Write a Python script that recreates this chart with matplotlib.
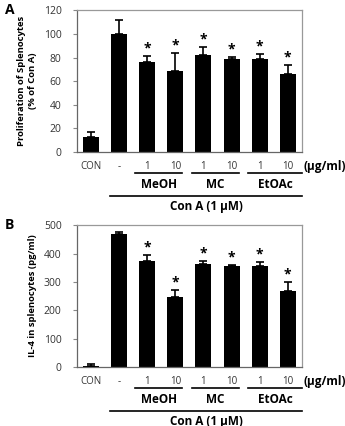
import matplotlib.pyplot as plt
import matplotlib.transforms as mtransforms
import numpy as np

plt.rcParams['font.family'] = ['Open Sans', 'DejaVu Sans']

tick_labels = ['CON', '-', '1', '10', '1', '10', '1', '10']
groups = ['MeOH', 'MC', 'EtOAc']
group_spans = [(1.57, 3.25), (3.6, 5.25), (5.6, 7.5)]

prolif = [13, 100, 76, 69, 82, 79, 79, 66]
prolif_err = [4, 12, 5, 15, 7, 1.5, 4, 8]
prolif_sig = [False, False, True, True, True, True, True, True]

il4 = [3, 468, 373, 248, 364, 357, 357, 268]
il4_err = [8, 8, 20, 22, 8, 3, 13, 33]
il4_sig = [False, False, True, True, True, True, True, True]

fig = plt.figure(figsize=(3.45, 4.26), dpi=100)
axA = fig.add_axes([0.223, 0.643, 0.652, 0.333])
axB = fig.add_axes([0.223, 0.1385, 0.652, 0.333])


def draw(ax, vals, errs, sig, ymax, ystep, ylabel, letter, star_off):
    x = np.arange(len(vals))
    ax.bar(x, vals, width=0.57, color='black', zorder=2)
    ax.errorbar(x, vals, yerr=[np.zeros(len(errs)), errs], fmt='none',
                ecolor='black', elinewidth=1.2, capsize=3, capthick=1.2, zorder=3)
    for xi, v, e, s in zip(x, vals, errs, sig):
        if s:
            ax.text(xi, v + e + star_off, '*', ha='center', va='bottom',
                    fontsize=10, fontweight='bold')
    ax.set_xlim(-0.5, 7.5)
    ax.set_ylim(0, ymax)
    ax.set_yticks(np.arange(0, ymax + 1, ystep))
    ax.set_xticks([])
    ax.tick_params(axis='y', labelsize=7.5, length=3, pad=8, color='#888888',
                   labelcolor='#333333')
    for sp in ax.spines.values():
        sp.set_color('#999999')
        sp.set_linewidth(0.9)
    ax.spines['left'].set_color('#666666')
    ax.spines['bottom'].set_color('#666666')
    ax.set_ylabel(ylabel, fontsize=6.8, fontweight='bold', labelpad=5)

    trans = mtransforms.blended_transform_factory(ax.transData, ax.transAxes)
    for xi, lab in zip(x, tick_labels):
        ax.text(xi, -0.1, lab, transform=trans, ha='center', va='center',
                fontsize=7, color='#333333')
    ax.text(7.55, -0.1, '(µg/ml)', transform=trans, ha='left', va='center',
            fontsize=8.5, fontweight='bold')
    for (a, b), g in zip(group_spans, groups):
        ax.plot([a, b], [-0.148, -0.148], transform=trans, color='black',
                lw=1.2, clip_on=False)
        ax.text((a + b) / 2, -0.232, g, transform=trans, ha='center', va='center',
                fontsize=8.5, fontweight='bold')
    ax.plot([0.68, 7.5], [-0.31, -0.31], transform=trans, color='black',
            lw=1.2, clip_on=False)
    ax.text(4.1, -0.387, 'Con A (1 µM)', transform=trans, ha='center', va='center',
            fontsize=8.5, fontweight='bold')
    ax.text(-0.32, 1.0, letter, transform=ax.transAxes, ha='left', va='center',
            fontsize=10, fontweight='bold')


draw(axA, prolif, prolif_err, prolif_sig, 120, 20,
     'Proliferation of Splenocytes\n(% of Con A)', 'A', 0.5)
draw(axB, il4, il4_err, il4_sig, 500, 100,
     'IL-4 in splenocytes (pg/ml)', 'B', 2)

fig.savefig('out.png', dpi=100)
